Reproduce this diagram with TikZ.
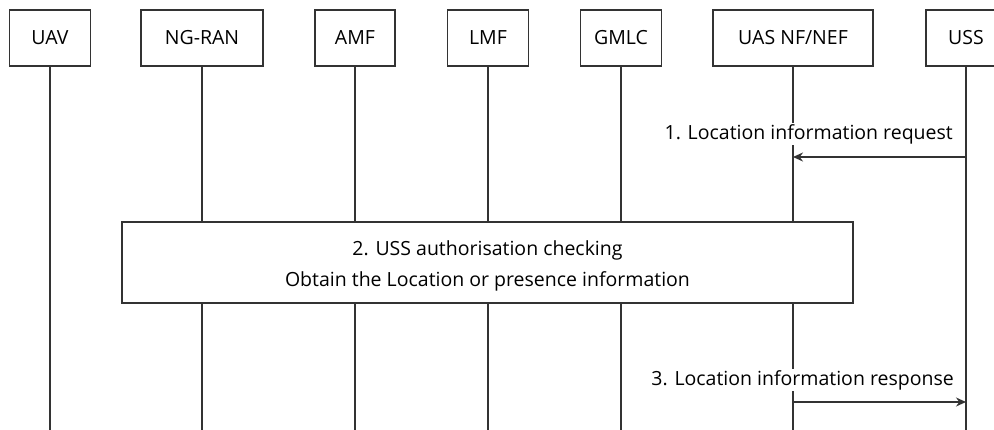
\documentclass[tikz,border=0pt]{standalone}
\usepackage{fontspec}
\setmainfont{Open Sans}
\usetikzlibrary{arrows.meta}
\definecolor{linecolor}{HTML}{333333}

\begin{document}
\begin{tikzpicture}[x=1pt, y=-1pt, font=\fontsize{19.5}{31}\selectfont]
    \useasboundingbox (0,0) rectangle (994,430);
    \tikzset{
        entity/.style={draw=linecolor, line width=1.4pt, fill=white, minimum height=56pt, inner sep=0pt},
        lifeline/.style={draw=linecolor, line width=1.4pt},
        msg/.style={draw=linecolor, line width=1.4pt, -{Stealth[length=10pt, width=9pt]}},
        msglabel/.style={fill=white, inner sep=1pt, anchor=east}
    }
    % entities
    \node[entity, minimum width=81pt] (uav) at (50,38) {UAV};
    \node[entity, minimum width=122pt] (ngran) at (202,38) {NG-RAN};
    \node[entity, minimum width=80pt] (amf) at (355,38) {AMF};
    \node[entity, minimum width=81pt] (lmf) at (488,38) {LMF};
    \node[entity, minimum width=81pt] (gmlc) at (621,38) {GMLC};
    \node[entity, minimum width=160pt] (uas) at (793,38) {UAS NF/NEF};
    \node[entity, minimum width=80pt] (uss) at (966,38) {USS};
    % lifelines
    \foreach \n in {uav,ngran,amf,lmf,gmlc,uas,uss}
        \draw[lifeline] (\n.south) -- (\n.south |- 0,430);
    % 1
    \draw[msg] (uss.south |- 0,157) -- (uas.south |- 0,157);
    \node[msglabel] (req) at (954,134) {1. Location information request};
    % 2
    \node[entity, minimum width=731pt, minimum height=81pt] (check) at (487.5,262.5) {};
    \node[align=center, inner sep=0pt] (checktext) at (487.5,266)
        {2. USS authorisation checking\\Obtain the Location or presence information};
    % 3
    \draw[msg] (uas.south |- 0,402) -- (uss.south |- 0,402);
    \node[msglabel] (resp) at (955,380) {3. Location information response};
\end{tikzpicture}
\end{document}
